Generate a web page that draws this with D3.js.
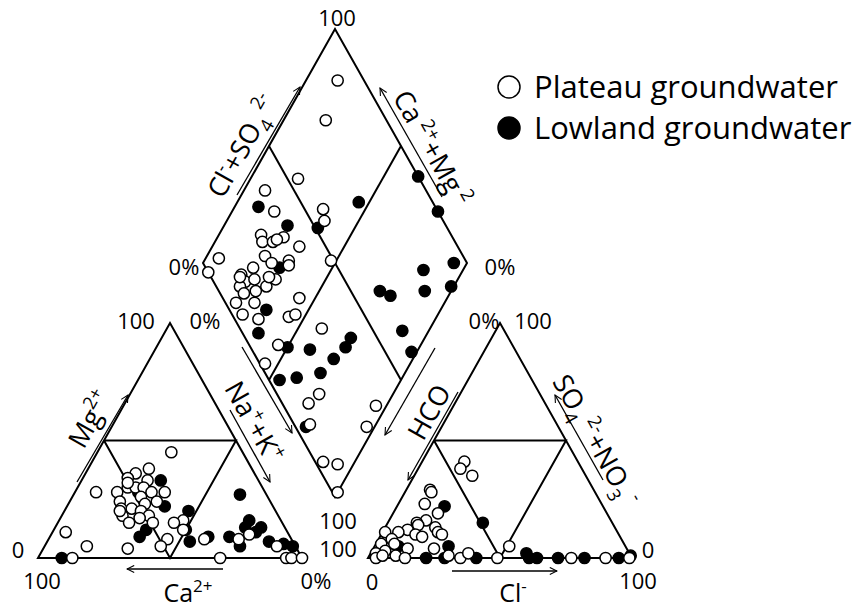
<!DOCTYPE html>
<html>
<head>
<meta charset="utf-8">
<script src="https://cdn.jsdelivr.net/npm/d3@7"></script>
<style>
  body { margin: 0; background: #fff; }
  svg { display: block; }
  text { font-family: "Open Sans", sans-serif; fill: #000; }
</style>
</head>
<body>
<svg id="chart" width="864" height="609"></svg>
<script>
// cations: [Ca%, Mg%]  (Na+K = 100 - Ca - Mg)
var cationPlateau = [[27,45],[39,38],[45,36],[49,34],[42,33],[51,30],[48,30],[45,30],[56,28],[64,28],
  [43,28],[38,28],[48,26],[57,24],[43,24],[48,23],[58,21],[54,21],[51,20],[59,18],[49,18],[58,15],
  [53,17],[49,15],[50,32],[59,20],[84,11],[79,5],[64,4],[87,0],[47,8],[51,5],[37,16],[41,15],[39,12],
  [33,8],[20,8],[15,10],[7,5],[31,0],[6,0],[4,0],[0,0]];
var cationLowland = [[91,0],[37,33],[48,28],[41,22],[53,12],[57,9],[33,20],[38,12],[39,7],[31,9],
  [10,27],[12,16],[9,13],[12,11],[23,9],[21,5],[9,7],[4,6],[1,5],[15,13]];

// anions: [Cl%, SO4+NO3%]  (HCO3 = 100 - Cl - SO4)
var anionPlateau = [[16,41],[16,38],[22,35],[9,29],[10,28],[10,23],[17,19],[14,16],[11,15],[12,14],
  [9,12],[6,11],[1,11],[19,13],[21,11],[13,10],[16,9],[23,10],[5,8],[2,6],[23,4],[13,4],[5,3],[2,2],
  [10,1],[3,0],[14,0],[35,0],[37,2],[49,0],[30,1],[51,5],[77,0],[90,0],[99,0],[5,1],[7,6]];
var anionLowland = [[18,22],[36,15],[28,5],[22,0],[29,0],[41,0],[59,2],[61,0],[64,0],[72,0],[82,0],
  [95,0],[99,1],[9,5]];

// diamond: [Ca+Mg%, Cl+SO4%]
var diamondPlateau = [[88,90],[84,77],[82,54],[92,39],[84,38],[66,57],[63,55],[84,28],[82,27],[78,31],
  [75,36],[77,33],[67,40],[95,7],[78,25],[74,26],[68,33],[67,32],[52,49],[96,0],[83,12],[80,18],
  [80,12],[77,16],[71,19],[69,24],[81,9],[78,9],[74,14],[56,29],[79,4],[72,11],[74,4],[67,9],[56,21],
  [54,24],[54,11],[55,2],[41,31],[30,10],[28,16],[25,6],[12,3],[6,8],[0,2],[4,35],[3,27],[72,22],[83,11]];
var diamondLowland = [[91,33],[76,40],[64,51],[54,72],[37,100],[22,100],[70,28],[15,82],[5,95],[27,61],
  [22,64],[10,78],[1,89],[66,14],[64,6],[50,14],[41,22],[46,4],[40,11],[32,21],[30,29],[28,36],
  [28,40],[26,4],[10,61],[2,60]];

var seriesNames = ["Plateau groundwater", "Lowland groundwater"];
var cationTicks = ["100", "0%", "0", "100", "0%"];
var anionTicks = ["0%", "100", "0", "100", "0"];
var diamondTicks = ["100", "0%", "0%", "100", "100"];

var svg = d3.select("#chart");

var catX = d3.scaleLinear().domain([0, 100]).range([38, 302]);
var anX = d3.scaleLinear().domain([0, 100]).range([368, 632]);
var triY = d3.scaleLinear().domain([0, 100]).range([558, 323]);
var dmX = d3.scaleLinear().domain([-100, 100]).range([203, 467]);
var dmY = d3.scaleLinear().domain([0, 200]).range([497, 29]);

function catPos(ca, mg) { var nak = 100 - ca - mg; return [catX(nak + mg / 2), triY(mg)]; }
function anPos(cl, so4) { return [anX(cl + so4 / 2), triY(so4)]; }
function dmPos(camg, clso4) { return [dmX(clso4 - camg), dmY(camg + clso4)]; }

var defs = svg.append("defs");
defs.append("marker")
  .attr("id", "arrow")
  .attr("viewBox", "0 0 10 10")
  .attr("refX", 9).attr("refY", 5)
  .attr("markerWidth", 9).attr("markerHeight", 9)
  .attr("markerUnits", "userSpaceOnUse")
  .attr("orient", "auto")
  .append("path")
  .attr("d", "M1,1 L9,5 L1,9")
  .attr("fill", "none")
  .attr("stroke", "#000")
  .attr("stroke-width", 1.2);

var frame = svg.append("g").attr("fill", "none").attr("stroke", "#000").attr("stroke-width", 2)
  .attr("stroke-linejoin", "miter");
var pathGen = d3.line();

// cation triangle
frame.append("path").attr("d", pathGen([catPos(100, 0), catPos(0, 100), catPos(0, 0)]) + "Z");
frame.append("path").attr("d", pathGen([catPos(50, 50), catPos(0, 50), catPos(50, 0), catPos(50, 50)]));
// anion triangle
frame.append("path").attr("d", pathGen([anPos(0, 0), anPos(0, 100), anPos(100, 0)]) + "Z");
frame.append("path").attr("d", pathGen([anPos(0, 50), anPos(50, 50), anPos(50, 0), anPos(0, 50)]));
// diamond
frame.append("path").attr("d", pathGen([dmPos(0, 0), dmPos(100, 0), dmPos(100, 100), dmPos(0, 100)]) + "Z");
frame.append("path").attr("d", pathGen([dmPos(50, 0), dmPos(50, 100)]));
frame.append("path").attr("d", pathGen([dmPos(0, 50), dmPos(100, 50)]));

// arrows
var arrows = [
  [[77, 482], [128, 395]],   // Mg
  [[230, 410], [270, 482]],  // Na+K
  [[223, 569], [127, 569]],  // Ca
  [[242, 347], [292, 433]],  // diamond lower-left
  [[435, 348], [385, 435]],  // diamond lower-right
  [[458, 392], [408, 480]],  // HCO3
  [[603, 480], [555, 395]],  // SO4+NO3
  [[452, 571], [557, 571]],  // Cl
  [[237, 195], [300, 87]],   // Cl+SO4
  [[442, 197], [380, 88]]    // Ca+Mg
];
svg.append("g").selectAll("line").data(arrows).enter().append("line")
  .attr("x1", function (d) { return d[0][0]; })
  .attr("y1", function (d) { return d[0][1]; })
  .attr("x2", function (d) { return d[1][0]; })
  .attr("y2", function (d) { return d[1][1]; })
  .attr("stroke", "#000")
  .attr("stroke-width", 1.3)
  .attr("marker-end", "url(#arrow)");

// points
function drawPoints(data, pos, filled) {
  svg.append("g").selectAll("circle").data(data).enter().append("circle")
    .attr("cx", function (d) { return pos(d[0], d[1])[0]; })
    .attr("cy", function (d) { return pos(d[0], d[1])[1]; })
    .attr("r", 5.6)
    .attr("fill", filled ? "#000" : "#fff")
    .attr("stroke", "#000")
    .attr("stroke-width", 1.5);
}
drawPoints(cationLowland, catPos, true);
drawPoints(anionLowland, anPos, true);
drawPoints(diamondLowland, dmPos, true);
drawPoints(cationPlateau, catPos, false);
drawPoints(anionPlateau, anPos, false);
drawPoints(diamondPlateau, dmPos, false);

// text helpers
function richText(x, y, angle, parts, size) {
  var t = svg.append("text")
    .attr("transform", "translate(" + x + "," + y + ") rotate(" + angle + ")")
    .attr("text-anchor", "middle")
    .attr("font-size", size)
    .attr("y", size * 0.36);
  var shift = 0;
  parts.forEach(function (p) {
    var target = p[1] === "sup" ? -0.42 * size : (p[1] === "sub" ? 0.3 * size : 0);
    t.append("tspan")
      .attr("dy", target - shift)
      .attr("font-size", p[1] ? size * 0.68 : size)
      .text(p[0]);
    shift = target;
  });
}
function tick(x, y, s) {
  svg.append("text").attr("x", x).attr("y", y).attr("text-anchor", "middle")
    .attr("font-size", 22).text(s);
}

// tick labels
var ap = catPos(0, 100), bl = catPos(100, 0), br = catPos(0, 0);
tick(ap[0] - 34, ap[1] + 6, cationTicks[0]);
tick(ap[0] + 35, ap[1] + 6, cationTicks[1]);
tick(bl[0] - 20, bl[1], cationTicks[2]);
tick(bl[0] + 4, bl[1] + 31, cationTicks[3]);
tick(br[0] + 14, br[1] + 31, cationTicks[4]);

var aap = anPos(0, 100), abl = anPos(0, 0), abr = anPos(100, 0);
tick(aap[0] - 16, aap[1] + 6, anionTicks[0]);
tick(aap[0] + 33, aap[1] + 6, anionTicks[1]);
tick(abl[0] + 4, abl[1] + 32, anionTicks[2]);
tick(abr[0] + 6, abr[1] + 31, anionTicks[3]);
tick(abr[0] + 16, abr[1], anionTicks[4]);

var dtop = dmPos(100, 100), dleft = dmPos(100, 0), dright = dmPos(0, 100), dbot = dmPos(0, 0);
tick(dtop[0] + 2, dtop[1] - 3, diamondTicks[0]);
tick(dleft[0] - 19, dleft[1] + 12, diamondTicks[1]);
tick(dright[0] + 33, dright[1] + 12, diamondTicks[2]);
tick(dbot[0] + 3, dbot[1] + 32, diamondTicks[3]);
tick(dbot[0] + 3, dbot[1] + 60, diamondTicks[4]);

// axis names
var ang = 60.6;
richText(90, 419, -ang, [["Mg"], ["2+", "sup"]], 27);
richText(254, 422, ang, [["Na"], ["+", "sup"], ["+K"], ["+", "sup"]], 27);
richText(188, 593, 0, [["Ca"], ["2+", "sup"]], 25);
richText(429, 412, -ang, [["HCO"]], 27);
richText(596, 440, ang, [["SO"], ["4", "sub"], [" 2-", "sup"], ["+NO"], ["3", "sub"], [" -", "sup"]], 27);
richText(513, 593, 0, [["Cl"], ["-", "sup"]], 25);
richText(242, 146, -ang, [["Cl"], ["-", "sup"], ["+SO"], ["4", "sub"], [" 2-", "sup"]], 27);
richText(432, 148, ang, [["Ca"], [" 2+", "sup"], ["+Mg"], [" 2", "sup"]], 27);

// legend
var legend = svg.append("g").selectAll("g").data(seriesNames).enter().append("g")
  .attr("transform", function (d, i) { return "translate(509," + (87 + i * 41) + ")"; });
legend.append("circle")
  .attr("r", 11)
  .attr("fill", function (d, i) { return i === 0 ? "#fff" : "#000"; })
  .attr("stroke", "#000")
  .attr("stroke-width", 1.5);
legend.append("text")
  .attr("x", 25)
  .attr("y", 11)
  .attr("font-size", 31)
  .text(function (d) { return d; });
</script>
</body>
</html>
